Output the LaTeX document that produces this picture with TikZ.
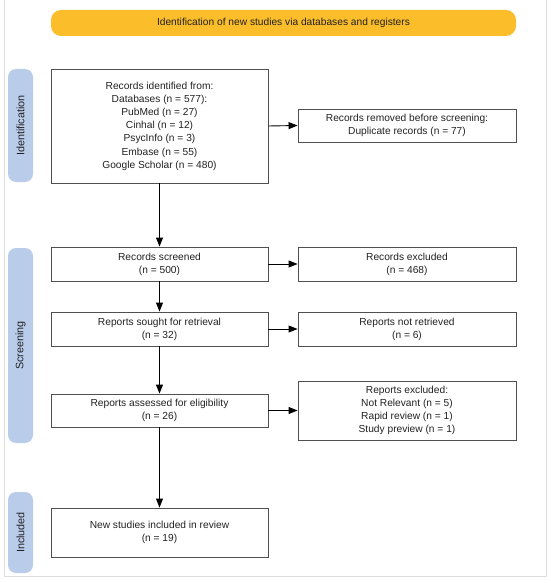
\documentclass[tikz,border=0pt]{standalone}
\usepackage{fontspec}
\setmainfont{Liberation Sans}
\usetikzlibrary{arrows.meta}
\definecolor{bannery}{HTML}{FBBD2A}
\definecolor{phaseblue}{HTML}{B9CDEB}
\definecolor{boxline}{HTML}{505050}
\definecolor{txt}{HTML}{222222}
\definecolor{frame}{HTML}{DDDDDD}
\tikzset{
  flowbox/.style={draw=boxline, line width=0.9pt, fill=white, align=center, inner sep=2pt,
    font=\fontsize{10.2}{13.2}\selectfont, text=txt},
  phase/.style={fill=phaseblue, rounded corners=8pt, minimum width=25pt, inner sep=0pt,
    font=\fontsize{10.8}{12}\selectfont, text=txt},
  flowarrow/.style={-{Triangle[length=9pt,width=7pt]}, line width=0.9pt, draw=black},
}
\begin{document}
\begin{tikzpicture}[x=1pt,y=1pt]
\useasboundingbox (0,0) rectangle (550,-583);
\fill[white] (0,0) rectangle (550,-583);
\draw[frame, line width=1pt] (4,0) -- (4,-576) -- (546,-576) -- (546,0);

\node[fill=bannery, rounded corners=10pt, minimum width=465pt, minimum height=26pt, inner sep=0pt,
  font=\fontsize{10.2}{12}\selectfont, text=txt] (banner) at (283.5,-23) {Identification of new studies via databases and registers};

\node[phase, minimum height=113pt] (pid) at (20.5,-125.5) {\rotatebox{90}{Identification}};
\node[phase, minimum height=195pt] (pscr) at (20.5,-345.5) {\rotatebox{90}{Screening}};
\node[phase, minimum height=81pt] (pinc) at (20.5,-532.5) {\rotatebox{90}{Included}};

\node[flowbox, minimum width=217pt, minimum height=114pt] (ident) at (159.5,-126)
  {Records identified from:\\Databases (n = 577):\\PubMed (n = 27)\\Cinhal (n = 12)\\PsycInfo (n = 3)\\Embase (n = 55)\\Google Scholar (n = 480)};
\node[flowbox, minimum width=218pt, minimum height=33pt] (removed) at (407,-125.5)
  {Records removed before screening:\\Duplicate records (n = 77)};

\node[flowbox, minimum width=217pt, minimum height=34pt] (screened) at (159.5,-264)
  {Records screened\\(n = 500)};
\node[flowbox, minimum width=218pt, minimum height=34pt] (excluded) at (407,-264)
  {Records excluded\\(n = 468)};

\node[flowbox, minimum width=217pt, minimum height=34pt] (sought) at (159.5,-329)
  {Reports sought for retrieval\\(n = 32)};
\node[flowbox, minimum width=218pt, minimum height=34pt] (notret) at (407,-329)
  {Reports not retrieved\\(n = 6)};

\node[flowbox, minimum width=217pt, minimum height=33pt] (assessed) at (159.5,-410.5)
  {Reports assessed for eligibility\\(n = 26)};
\node[flowbox, minimum width=218pt, minimum height=59pt] (repexcl) at (407,-410.5)
  {Reports excluded:\\Not Relevant (n = 5)\\Rapid review (n = 1)\\Study preview (n = 1)};

\node[flowbox, minimum width=217pt, minimum height=49pt] (included) at (159.5,-532.5)
  {New studies included in review\\(n = 19)};

\draw[flowarrow] (ident.east) -- (removed.west);
\draw[flowarrow] (screened.east) -- (excluded.west);
\draw[flowarrow] (sought.east) -- (notret.west);
\draw[flowarrow] (assessed.east) -- (repexcl.west);

\draw[flowarrow] (ident.south) -- (screened.north);
\draw[flowarrow] (screened.south) -- (sought.north);
\draw[flowarrow] (sought.south) -- (assessed.north);
\draw[flowarrow] (assessed.south) -- (included.north);
\end{tikzpicture}
\end{document}
